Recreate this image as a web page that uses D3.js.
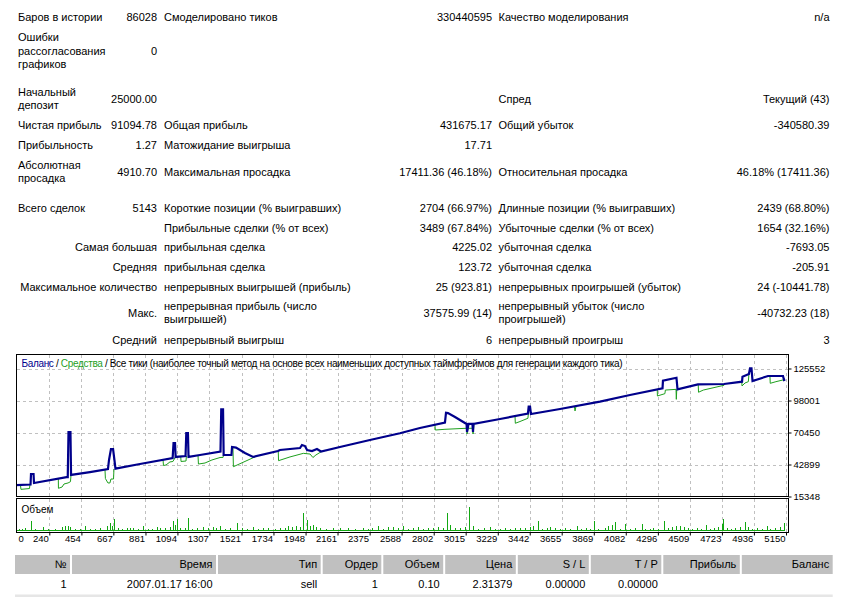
<!DOCTYPE html>
<html>
<head>
<meta charset="utf-8">
<script src="https://cdn.jsdelivr.net/npm/d3@7/dist/d3.min.js"></script>
<style>
body { margin: 0; background: #fff; }
text { font-family: "Liberation Sans", Arial, sans-serif; }
</style>
</head>
<body>
<script>
// ---- report text ----
var statLabels1 = ["Баров в истории", "Ошибки\nрассогласования\nграфиков", "Начальный\nдепозит", "Чистая прибыль", "Прибыльность", "Абсолютная\nпросадка", "Всего сделок", "", "", "", "", "", ""];
var statHeads   = ["", "", "", "", "", "", "", "", "Самая большая", "Средняя", "Максимальное количество", "Макс.", "Средний"];
var statValues1 = ["86028", "0", "25000.00", "91094.78", "1.27", "4910.70", "5143", "", "", "", "", "", ""];
var statLabels2 = ["Смоделировано тиков", "", "", "Общая прибыль", "Матожидание выигрыша", "Максимальная просадка", "Короткие позиции (% выигравших)", "Прибыльные сделки (% от всех)", "прибыльная сделка", "прибыльная сделка", "непрерывных выигрышей (прибыль)", "непрерывная прибыль (число\nвыигрышей)", "непрерывный выигрыш"];
var statValues2 = ["330440595", "", "", "431675.17", "17.71", "17411.36 (46.18%)", "2704 (66.97%)", "3489 (67.84%)", "4225.02", "123.72", "25 (923.81)", "37575.99 (14)", "6"];
var statLabels3 = ["Качество моделирования", "", "Спред", "Общий убыток", "", "Относительная просадка", "Длинные позиции (% выигравших)", "Убыточные сделки (% от всех)", "убыточная сделка", "убыточная сделка", "непрерывных проигрышей (убыток)", "непрерывный убыток (число\nпроигрышей)", "непрерывный проигрыш"];
var statValues3 = ["n/a", "", "Текущий (43)", "-340580.39", "", "46.18% (17411.36)", "2439 (68.80%)", "1654 (32.16%)", "-7693.05", "-205.91", "24 (-10441.78)", "-40732.23 (18)", "3"];

// ---- chart data: [trade number, money] ----
var xTicks = [0,240,454,667,881,1094,1307,1521,1734,1948,2161,2375,2588,2802,3015,3229,3442,3655,3869,4082,4296,4509,4723,4936,5150];
var yTicks = [15348,42899,70450,98001,125552];

var balance = [[0,25000],[115,25700],[118,34700],[135,34700],[138,27000],[355,32100],[363,32100],[368,70900],[381,70900],[385,33900],
  [511,36400],[631,39000],[638,46800],[651,56200],[665,56200],[674,46800],[681,39300],[844,43300],[1062,48500],[1068,61400],
  [1078,61400],[1082,49400],[1148,50200],[1153,70000],[1164,70000],[1168,49400],[1244,51100],[1381,54100],[1386,90300],[1398,90300],
  [1402,51100],[1454,51100],[1458,58000],[1484,57500],[1544,52800],[1598,49400],[1764,54500],[1777,55400],[1911,57100],[1924,59700],
  [1944,58800],[1958,55400],[1991,54500],[2024,56200],[2051,54100],[2177,58000],[2377,64000],[2577,69800],[2710,74300],[2877,78900],
  [2884,87500],[2897,87200],[2944,83800],[2977,81200],[3021,77800],[3024,70900],[3034,77800],[3060,77800],[3064,70900],[3067,77800],
  [3244,82100],[3430,86800],[3435,92800],[3444,92800],[3450,86400],[3644,90700],[3910,97000],[4110,102700],[4327,108500],[4330,115000],
  [4420,117600],[4427,107600],[4563,111900],[4737,112200],[4857,114200],[4860,118500],[4903,120800],[4910,125700],[4920,125700],[4927,114800],
  [5030,119100],[5130,119100],[5137,115700],[5145,116100]];

var equityDips = [
  [[48,25200],[51,21500],[108,22200],[111,25600]],
  [[300,31300],[301,22400],[325,23500],[338,26100],[365,27000],[381,28100],[385,33900]],
  [[611,38800],[614,30800],[631,27000],[644,27000],[651,30400],[668,30400],[671,39000]],
  [[998,47000],[1001,42000],[1018,42500],[1044,45100],[1064,45500],[1081,49400]],
  [[1116,49800],[1118,45500],[1151,45900],[1154,50200]],
  [[1231,50900],[1234,43300],[1278,44200],[1324,46800],[1378,48900],[1398,49000],[1401,51100]],
  [[1464,58000],[1467,41000],[1622,50100]],
  [[1766,54500],[1768,46200],[1844,49400],[1933,52500],[1978,51900],[1997,48900],[2017,51100],[2055,54100]],
  [[2810,77000],[2813,72600],[2877,73200],[3022,74100],[3024,69200],[3031,74100],[3061,74100],[3064,69200],[3071,77800]],
  [[3344,84600],[3346,78400],[3377,79900],[3430,82700],[3433,86800]],
  [[3740,92600],[3744,89000],[3750,92700]],
  [[4292,107600],[4293,101900],[4343,103900],[4346,107000],[4417,107600],[4419,99000],[4422,107600]],
  [[4565,111900],[4567,105100],[4599,107000],[4737,111100],[4740,112200]],
  [[4855,114100],[4857,110500],[4877,113100],[4899,114200],[4903,120800]],
  [[5043,119100],[5045,112800],[5083,114200],[5130,115700],[5137,115700]]
];

// lots per trade (only the visible spikes, the rest sit at 0.1)
var volume = [[38,.2],[58,.2],[78,.3],[118,1.0],[145,.2],[198,.4],[231,.2],[278,.2],[325,.4],[345,.5],[365,.5],[378,.4],[411,.2],[445,.2],
  [478,.5],[511,.2],[545,.2],[578,.3],[625,.5],[645,.8],[658,.5],[673,1.2],[698,.3],[725,.2],[758,.3],[778,.3],[798,.3],[831,.2],[865,.5],
  [898,.2],[925,.2],[958,.4],[978,.3],[1011,.3],[1045,.4],[1064,1.0],[1078,.6],[1089,1.2],[1111,.3],[1145,.3],[1166,1.3],[1191,.2],[1224,.3],
  [1264,.4],[1298,.3],[1331,.4],[1351,.3],[1378,.5],[1411,.2],[1445,.3],[1493,.8],[1524,.3],[1558,.2],[1598,.4],[1631,.2],[1664,.3],[1698,.3],
  [1744,.2],[1778,.3],[1811,.3],[1831,.5],[1858,.4],[1884,.5],[1911,.4],[1929,1.8],[1955,1.1],[1977,.5],[1997,.6],[2017,.4],[2044,.3],[2084,.2],
  [2131,.3],[2177,.3],[2231,.3],[2277,.2],[2331,.3],[2364,.2],[2391,.3],[2431,.5],[2464,.2],[2497,.4],[2531,.4],[2564,.3],[2597,.5],[2631,.2],
  [2664,.3],[2697,.4],[2731,.2],[2764,.3],[2797,.3],[2831,.4],[2864,.3],[2889,1.8],[2911,.6],[2944,.3],[2977,.3],[3011,.4],[3039,2.4],[3064,.5],
  [3097,.2],[3137,.3],[3177,.4],[3210,.2],[3244,.2],[3277,.3],[3310,.2],[3344,.3],[3377,.3],[3410,.3],[3444,.4],[3464,.5],[3495,1.0],[3524,.2],
  [3557,.3],[3577,.4],[3610,.3],[3644,.2],[3677,.3],[3710,.2],[3755,.5],[3784,.2],[3817,.3],[3844,.2],[3868,1.0],[3897,.2],[3944,.3],[3964,.5],
  [3990,.6],[4010,.9],[4044,.2],[4077,.7],[4110,.2],[4144,.3],[4188,.7],[4210,.2],[4244,.2],[4264,.3],[4297,.2],[4337,1.0],[4364,.3],[4390,.4],
  [4417,.5],[4444,.5],[4470,.4],[4497,.3],[4523,.2],[4557,.3],[4583,.2],[4617,.6],[4643,.2],[4670,.3],[4697,.4],[4721,.7],[4730,1.2],[4757,.3],
  [4783,.2],[4810,.3],[4843,.4],[4877,.9],[4897,.4],[4923,.2],[4957,.3],[4990,.2],[5022,.5],[5043,.2],[5077,.3],[5110,.4],[5137,.8]];
var minLot = 0.1;
var totalTrades = 5143;

// ---- trades table ----
var tradeColumns = ["№","Время","Тип","Ордер","Объем","Цена","S / L","T / P","Прибыль","Баланс"];
var tradeRow = ["1","2007.01.17 16:00","sell","1","0.10","2.31379","0.00000","0.00000","",""];

var svg = d3.select("body")
    .append("svg")
    .attr("width", 852)
    .attr("height", 597)
    .style("display", "block");

// ---- stats table ----
var rowY = [17, 50.7, 99, 125.5, 145.5, 172, 207.8, 227.8, 247.6, 267.6, 287.6, 313, 340.6];
var lineH = 13.2;

function multiText(x, yc, str, anchor) {
    var lines = str.split("\n");
    var t = svg.append("text")
        .attr("text-anchor", anchor)
        .style("font-size", "11px")
        .attr("fill", "#000");
    lines.forEach(function(s, i) {
        t.append("tspan")
            .attr("x", x)
            .attr("y", yc - (lines.length - 1) * lineH / 2 + i * lineH)
            .attr("dy", "0.35em")
            .text(s);
    });
}

rowY.forEach(function(yc, i) {
    if (statLabels1[i]) multiText(18, yc, statLabels1[i], "start");
    if (statHeads[i]) multiText(157, yc, statHeads[i], "end");
    if (statValues1[i]) multiText(157, yc, statValues1[i], "end");
    if (statLabels2[i]) multiText(164, yc, statLabels2[i], "start");
    if (statValues2[i]) multiText(492, yc, statValues2[i], "end");
    if (statLabels3[i]) multiText(498.5, yc, statLabels3[i], "start");
    if (statValues3[i]) multiText(829.5, yc, statValues3[i], "end");
});

// ---- chart ----
var cLeft = 16.5, cRight = 788.5, cTop = 354.5, mainBottom = 496.5, volTop = 498.5, volBottom = 532.5;

var x = d3.scaleLinear().domain([240, 5150]).range([49.3, 786]);
var y = d3.scaleLinear().domain([15348, 125552]).range([496.5, 368.5]);
var yv = d3.scaleLinear().domain([0, 3.2]).range([531, 499]);

svg.append("clipPath").attr("id", "mainClip")
    .append("rect").attr("x", cLeft).attr("y", cTop).attr("width", cRight - cLeft).attr("height", mainBottom - cTop);
svg.append("clipPath").attr("id", "volClip")
    .append("rect").attr("x", cLeft).attr("y", volTop).attr("width", cRight - cLeft).attr("height", volBottom - volTop);

var grid = svg.append("g")
    .attr("stroke", "#c0c0c0")
    .attr("stroke-dasharray", "3,3")
    .attr("shape-rendering", "crispEdges");

grid.selectAll(".vg")
    .data(xTicks.slice(1))
    .enter()
    .append("line")
    .attr("x1", function(d) { return Math.round(x(d)) + 0.5; })
    .attr("x2", function(d) { return Math.round(x(d)) + 0.5; })
    .attr("y1", cTop).attr("y2", mainBottom);

grid.selectAll(".vg2")
    .data(xTicks.slice(1))
    .enter()
    .append("line")
    .attr("x1", function(d) { return Math.round(x(d)) + 0.5; })
    .attr("x2", function(d) { return Math.round(x(d)) + 0.5; })
    .attr("y1", volTop).attr("y2", volBottom);

grid.selectAll(".hg")
    .data(yTicks.slice(1))
    .enter()
    .append("line")
    .attr("x1", cLeft).attr("x2", cRight)
    .attr("y1", function(d) { return Math.round(y(d)) + 0.5; })
    .attr("y2", function(d) { return Math.round(y(d)) + 0.5; });

var line = d3.line()
    .x(function(d) { return x(d[0]); })
    .y(function(d) { return y(d[1]); });

var plot = svg.append("g").attr("clip-path", "url(#mainClip)");

plot.selectAll(".eq")
    .data(equityDips)
    .enter()
    .append("path")
    .attr("d", line)
    .attr("fill", "none")
    .attr("stroke", "#1ea01e")
    .attr("stroke-width", 1);

plot.append("path")
    .datum(balance)
    .attr("d", line)
    .attr("fill", "none")
    .attr("stroke", "#00008b")
    .attr("stroke-width", 2.2)
    .attr("stroke-linejoin", "miter");

// volume: minimum lot level plus one bar per spike
var vol = svg.append("g")
    .attr("clip-path", "url(#volClip)")
    .attr("stroke", "#12a812")
    .attr("shape-rendering", "crispEdges");

vol.append("line")
    .attr("x1", x(0)).attr("x2", x(totalTrades))
    .attr("y1", Math.round(yv(minLot)) + 0.5)
    .attr("y2", Math.round(yv(minLot)) + 0.5);

vol.selectAll(".bar")
    .data(volume)
    .enter()
    .append("line")
    .attr("class", "bar")
    .attr("x1", function(d) { return Math.round(x(d[0])) + 0.5; })
    .attr("x2", function(d) { return Math.round(x(d[0])) + 0.5; })
    .attr("y1", yv(0))
    .attr("y2", function(d) { return yv(d[1]); });

// frames
svg.append("rect")
    .attr("x", cLeft).attr("y", cTop).attr("width", cRight - cLeft).attr("height", mainBottom - cTop)
    .attr("fill", "none").attr("stroke", "#000");
svg.append("rect")
    .attr("x", cLeft).attr("y", volTop).attr("width", cRight - cLeft).attr("height", volBottom - volTop)
    .attr("fill", "none").attr("stroke", "#000");

// legend
var legend = svg.append("text")
    .attr("x", 21.5)
    .attr("y", 363.3)
    .attr("dy", "0.35em")
    .attr("textLength", 601)
    .attr("lengthAdjust", "spacing")
    .style("font-size", "10px");
legend.append("tspan").attr("fill", "#00008b").text("Баланс");
legend.append("tspan").attr("fill", "#000").text(" / ");
legend.append("tspan").attr("fill", "#1ea01e").text("Средства");
legend.append("tspan").attr("fill", "#000").text(" / Все тики (наиболее точный метод на основе всех наименьших доступных таймфреймов для генерации каждого тика)");

svg.append("text")
    .attr("x", 21.5)
    .attr("y", 509)
    .attr("dy", "0.35em")
    .style("font-size", "10px")
    .text("Объем");

// axes
var yAxis = d3.axisRight(y)
    .tickValues(yTicks)
    .tickSize(3)
    .tickPadding(2)
    .tickFormat(d3.format("d"));

svg.append("g")
    .attr("transform", "translate(" + cRight + ",0)")
    .call(yAxis)
    .call(function(g) {
        g.select(".domain").remove();
        g.selectAll("text").style("font-size", "9.5px").style("font-family", "Liberation Sans, Arial, sans-serif");
    });

var xAxis = d3.axisBottom(x)
    .tickValues(xTicks)
    .tickSize(3)
    .tickFormat(d3.format("d"));

svg.append("g")
    .attr("transform", "translate(0," + volBottom + ")")
    .call(xAxis)
    .call(function(g) {
        g.select(".domain").remove();
        g.selectAll(".tick text")
            .style("font-size", "9.5px")
            .style("font-family", "Liberation Sans, Arial, sans-serif")
            .attr("y", 3)
            .attr("x", -1)
            .style("text-anchor", "end");
        g.selectAll(".tick").filter(function(d) { return d === 0; })
            .call(function(t) {
                t.select("line").remove();
                t.select("text").style("text-anchor", "start").attr("x", 18 - x(0));
            });
    });

// ---- trades table ----
var colEdges = [15, 71, 217, 321.7, 382.3, 444.2, 516.8, 589.8, 662.3, 740.8, 832.7];

tradeColumns.forEach(function(c, i) {
    var x0 = colEdges[i] + (i ? 1 : 0);
    var x1 = colEdges[i + 1] - (i < tradeColumns.length - 1 ? 1 : 0);
    svg.append("rect")
        .attr("x", x0).attr("y", 555)
        .attr("width", x1 - x0).attr("height", 19)
        .attr("fill", "#c0c0c0");
    svg.append("text")
        .attr("x", x1 - 3.5).attr("y", 564.5)
        .attr("dy", "0.35em")
        .attr("text-anchor", "end")
        .style("font-size", "11px")
        .text(c);
    if (tradeRow[i]) {
        svg.append("text")
            .attr("x", x1 - 3.5).attr("y", 584.5)
            .attr("dy", "0.35em")
            .attr("text-anchor", "end")
            .style("font-size", "11px")
            .text(tradeRow[i]);
    }
});

svg.append("rect")
    .attr("x", 15).attr("y", 594.5)
    .attr("width", 832.7 - 15).attr("height", 10)
    .attr("fill", "#e6e6e6");
</script>
</body>
</html>
